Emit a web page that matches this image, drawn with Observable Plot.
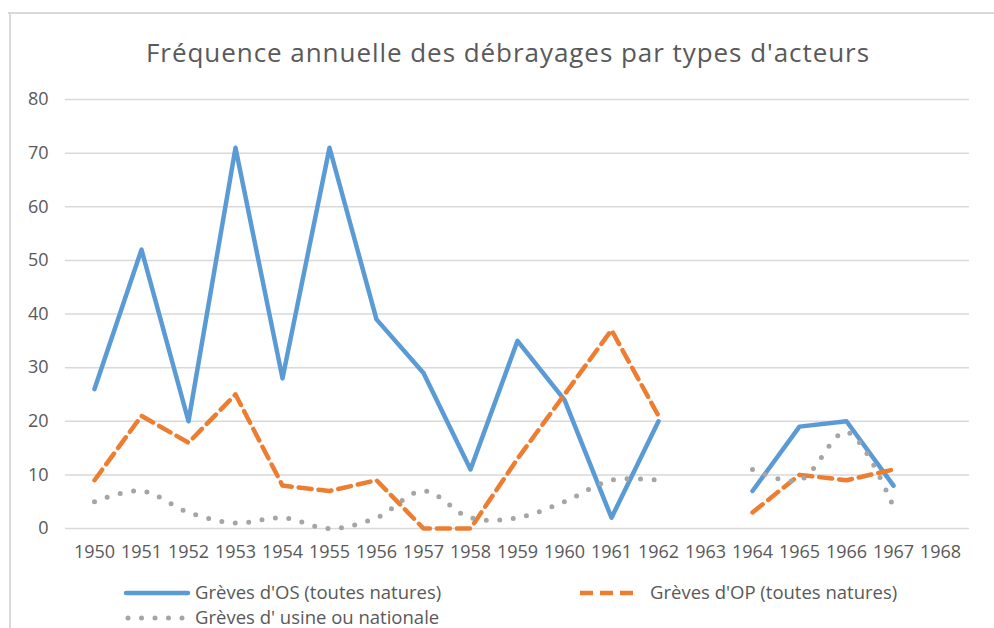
<!DOCTYPE html>
<html>
<head>
<meta charset="utf-8">
<script src="https://cdn.jsdelivr.net/npm/d3@7"></script>
<script src="https://cdn.jsdelivr.net/npm/@observablehq/plot@0.6"></script>
<style>
  html, body { margin: 0; padding: 0; background: #fff; }
  #wrap { position: relative; width: 994px; height: 628px; overflow: hidden; font-family: "Open Sans", sans-serif; color: #595959; }
  #wrap svg.plot { position: absolute; left: 0; top: 0; }
  .frameTop { position: absolute; left: 8px; top: 12px; width: 990px; height: 2px; background: #d9d9d9; }
  .frameLeft { position: absolute; left: 9px; top: 12px; width: 2px; height: 620px; background: #d9d9d9; }
  .title { position: absolute; left: 0; width: 1016px; top: 34px; text-align: center; font-size: 26px; letter-spacing: 0.95px; line-height: 36px; color: #595959; }
  .leg { position: absolute; font-size: 18.5px; line-height: 24px; color: #595959; white-space: nowrap; }
  .legsw { position: absolute; }
</style>
</head>
<body>
<div id="wrap">
  <div class="frameTop"></div>
  <div class="frameLeft"></div>
  <div class="title">Fréquence annuelle des débrayages par types d'acteurs</div>
</div>
<script>
// ---- data ----
const years = ["1950","1951","1952","1953","1954","1955","1956","1957","1958","1959",
               "1960","1961","1962","1963","1964","1965","1966","1967","1968"];
const grevesOS    = [26, 52, 20, 71, 28, 71, 39, 29, 11, 35, 24, 2, 20, null, 7, 19, 20, 8, null];
const grevesOP    = [9, 21, 16, 25, 8, 7, 9, 0, 0, 13, 25, 37, 21, null, 3, 10, 9, 11, null];
const grevesUsine = [5, 7, 3, 1, 2, 0, 2, 7, 2, 2, 5, 9, 9, null, 11, 9, 18, 4, null];
const yTicks = [0, 10, 20, 30, 40, 50, 60, 70, 80];
const seriesNames = ["Grèves d'OS (toutes natures)", "Grèves d'OP (toutes natures)", "Grèves d' usine ou nationale"];

const toRows = arr => years.map((y, i) => ({year: y, value: arr[i]}));
const rowsOS = toRows(grevesOS);
const rowsOP = toRows(grevesOP);
const rowsUs = toRows(grevesUsine);

const colors = {os: "#5b9bd5", op: "#ed7d31", us: "#a5a5a5"};

const chart = Plot.plot({
  width: 994,
  height: 628,
  marginLeft: 65,
  marginRight: 25,
  marginTop: 99,
  marginBottom: 100,
  style: {fontFamily: "'Open Sans', sans-serif", fontSize: "18px", color: "#595959", background: "transparent", overflow: "visible"},
  x: {type: "point", domain: years, padding: 0.5, label: null, tickSize: 0, tickPadding: 17},
  y: {domain: [0, 80], ticks: yTicks, label: null, tickSize: 0, tickPadding: 17},
  marks: [
    Plot.gridY(yTicks, {stroke: "#d9d9d9", strokeOpacity: 1, strokeWidth: 1.5}),
    Plot.line(rowsOS, {x: "year", y: "value", stroke: colors.os, strokeWidth: 4.5, strokeLinejoin: "round", strokeLinecap: "round"}),
    Plot.line(rowsOP, {x: "year", y: "value", stroke: colors.op, strokeWidth: 4.5, strokeDasharray: "13 7", strokeLinejoin: "round"}),
    Plot.line(rowsUs, {x: "year", y: "value", stroke: colors.us, strokeWidth: 5, strokeDasharray: "0 13.5", strokeLinecap: "round", curve: "catmull-rom"})
  ]
});
chart.classList.add("plot");
const wrap = document.getElementById("wrap");
wrap.appendChild(chart);

// ---- legend ----
function swatch(x, y, w, color, dash, cap, sw) {
  const ns = "http://www.w3.org/2000/svg";
  const s = document.createElementNS(ns, "svg");
  s.setAttribute("class", "legsw");
  s.setAttribute("width", w + 10);
  s.setAttribute("height", 12);
  s.style.left = (x - 5) + "px";
  s.style.top = (y - 6) + "px";
  const l = document.createElementNS(ns, "line");
  l.setAttribute("x1", 5); l.setAttribute("x2", 5 + w);
  l.setAttribute("y1", 6); l.setAttribute("y2", 6);
  l.setAttribute("stroke", color);
  l.setAttribute("stroke-width", sw);
  l.setAttribute("stroke-linecap", cap);
  if (dash) l.setAttribute("stroke-dasharray", dash);
  s.appendChild(l);
  wrap.appendChild(s);
}
function legText(x, y, t) {
  const d = document.createElement("div");
  d.className = "leg";
  d.style.left = x + "px";
  d.style.top = (y - 13) + "px";
  d.textContent = t;
  wrap.appendChild(d);
}
swatch(126, 593, 62, colors.os, null, "round", 4.5);
legText(195, 593, seriesNames[0]);
swatch(580, 593, 58, colors.op, "13 7", "butt", 4.5);
legText(650, 593, seriesNames[1]);
swatch(128, 618, 56, colors.us, "0 13.5", "round", 5);
legText(195, 618, seriesNames[2]);
</script>
</body>
</html>
